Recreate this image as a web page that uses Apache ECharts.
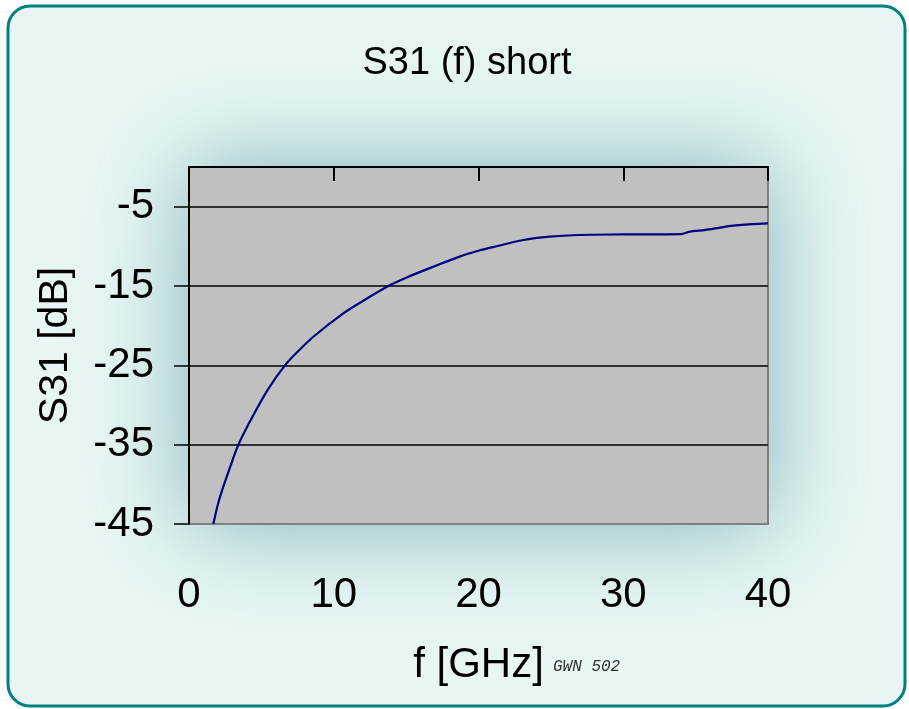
<!DOCTYPE html>
<html>
<head>
<meta charset="utf-8">
<script src="https://cdn.jsdelivr.net/npm/echarts@6/dist/echarts.min.js"></script>
<style>
  html, body { margin: 0; padding: 0; background: #ffffff; }
  #chart { width: 909px; height: 709px; }
</style>
</head>
<body>
<div id="chart"></div>
<script>
// S31 (f) short
var freqGHz = [1.68, 2.0, 2.37, 3.0, 3.41, 4.44, 5.5, 6.63, 7.5, 8.59, 10.66, 12.0, 13.77, 15.0,
               16.88, 18.7, 20.1, 21.0, 23.1, 24.9, 26.9, 30.0, 34.0, 34.6, 35.6, 36.5, 37.3, 38.9, 40.0];
var s31dB   = [-45, -42.5, -40.3, -37, -35, -31.3, -27.9, -25, -23.3, -21.4, -18.45, -16.9, -15, -13.95,
               -12.57, -11.3, -10.5, -10.1, -9.2, -8.78, -8.57, -8.5, -8.45, -8.15, -7.95, -7.7, -7.45, -7.2, -7.1];
var yTicks = [-45, -35, -25, -15, -5];

var chart = echarts.init(document.getElementById('chart'));

var points = freqGHz.map(function (f, i) { return [f, s31dB[i]]; });

var option = {
    animation: false,
    title: {
        text: 'S31 (f) short',
        left: 462,
        textAlign: 'center',
        top: 40,
        textStyle: { fontFamily: 'Liberation Sans', fontSize: 38, fontWeight: 'normal', color: '#000' }
    },
    graphic: [{
        type: 'rect',
        z: -10,
        shape: { x: 8, y: 6, width: 897, height: 700, r: 22 },
        style: { fill: '#e7f6f5', stroke: '#008080', lineWidth: 3 }
    }, {
        // soft glow behind the plot area
        type: 'rect',
        z: -5,
        shape: { x: 189, y: 167, width: 579, height: 357 },
        style: { fill: '#b9d6d7', shadowBlur: 90, shadowColor: 'rgba(30, 110, 120, 0.5)' }
    }, {
        type: 'text',
        left: 553,
        top: 659,
        style: { text: 'GWN 502', font: 'italic 16px "Liberation Mono"', fill: '#333' }
    }],
    grid: {
        left: 189, right: 141, top: 167, bottom: 185,
        show: true,
        backgroundColor: '#c0c0c0',
        borderColor: '#808080',
        borderWidth: 2
    },
    xAxis: [{
        type: 'value',
        min: 0, max: 40, interval: 10,
        position: 'bottom',
        axisLine: { show: false },
        axisTick: { show: false },
        splitLine: { show: false },
        axisLabel: { fontFamily: 'Liberation Sans', fontSize: 42, color: '#000', margin: 50 },
        name: 'f [GHz]',
        nameLocation: 'middle',
        nameGap: 120,
        nameTextStyle: { fontFamily: 'Liberation Sans', fontSize: 42, color: '#000' }
    }, {
        type: 'value',
        min: 0, max: 40, interval: 10,
        position: 'top',
        axisLine: { show: true, lineStyle: { color: '#000', width: 2 } },
        axisTick: { show: true, inside: true, length: 14, lineStyle: { color: '#000', width: 2 } },
        axisLabel: { show: false },
        splitLine: { show: false }
    }],
    yAxis: {
        type: 'value',
        min: -45, max: 0, interval: 10,
        axisLine: { show: true, lineStyle: { color: '#000', width: 2 } },
        axisTick: { show: true, length: 15, customValues: yTicks, lineStyle: { color: '#000', width: 1.5 } },
        axisLabel: {
            fontFamily: 'Liberation Sans', fontSize: 42, color: '#000', margin: 35,
            showMaxLabel: false
        },
        splitLine: { show: true, lineStyle: { color: ['#808080', '#000', '#000', '#000', '#000', '#000'], width: 1.5 } },
        name: 'S31 [dB]',
        nameLocation: 'middle',
        nameGap: 113,
        nameTextStyle: { fontFamily: 'Liberation Sans', fontSize: 41, color: '#000' }
    },
    series: [{
        type: 'line',
        xAxisIndex: 0,
        data: points,
        showSymbol: false,
        smooth: 0.3,
        lineStyle: { color: '#000080', width: 2.2 }
    }]
};

chart.setOption(option);
</script>
</body>
</html>
